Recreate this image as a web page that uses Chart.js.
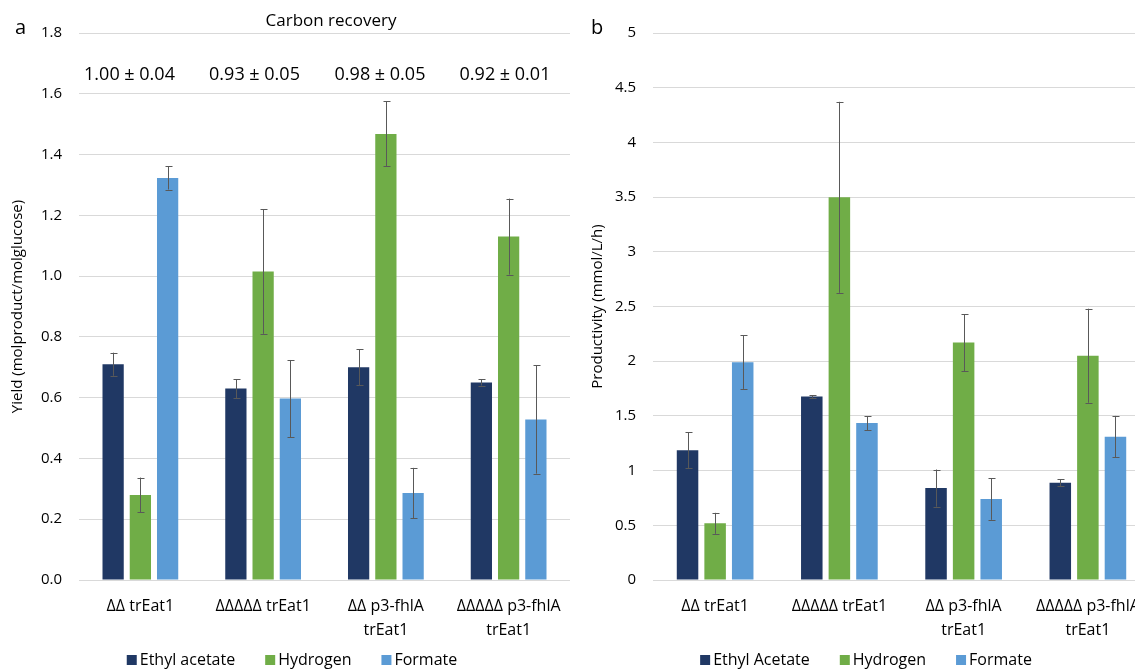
<!DOCTYPE html>
<html>
<head>
<meta charset="utf-8">
<script src="https://cdn.jsdelivr.net/npm/chart.js@4"></script>
<style>
  body { margin: 0; overflow: hidden; background: white; }
  .caja { position: absolute; top: 0; height: 671px; }
  #cajaA { left: 0; width: 570px; }
  #cajaB { left: 570px; width: 580px; }
</style>
</head>
<body>
<div class="caja" id="cajaA"><canvas id="graficaA"></canvas></div>
<div class="caja" id="cajaB"><canvas id="graficaB"></canvas></div>
<script>
const cepas = [["ΔΔ trEat1"], ["ΔΔΔΔΔ trEat1"], ["ΔΔ p3-fhlA", "trEat1"], ["ΔΔΔΔΔ p3-fhlA", "trEat1"]]

// a: yield
const yieldEtilo = [0.71, 0.63, 0.70, 0.65]
const yieldHidrogeno = [0.28, 1.015, 1.468, 1.13]
const yieldFormiato = [1.323, 0.597, 0.286, 0.528]
const errEtilo = [0.038, 0.031, 0.059, 0.01]
const errHidrogeno = [0.057, 0.205, 0.107, 0.125]
const errFormiato = [0.038, 0.127, 0.083, 0.178]
const recuperacion = ["1.00 ± 0.04", "0.93 ± 0.05", "0.98 ± 0.05", "0.92 ± 0.01"]

// b: productivity
const prodEtilo = [1.187, 1.677, 0.84, 0.89]
const prodHidrogeno = [0.518, 3.498, 2.17, 2.05]
const prodFormiato = [1.991, 1.434, 0.74, 1.31]
const errProdEtilo = [0.165, 0.012, 0.17, 0.03]
const errProdHidrogeno = [0.096, 0.873, 0.26, 0.43]
const errProdFormiato = [0.244, 0.065, 0.19, 0.19]

const azulOscuro = "#203864"
const verde = "#70AD47"
const azul = "#5B9BD5"
const fuente = "'Open Sans', sans-serif"
const texto = "#000000"

Chart.defaults.font.family = fuente
Chart.defaults.color = texto

// error bars drawn through the y scale
const barrasError = {
    id: "barrasError",
    afterDatasetsDraw(chart) {
        const ctx = chart.ctx
        const y = chart.scales.y
        ctx.save()
        ctx.strokeStyle = "#595959"
        ctx.lineWidth = 1
        chart.data.datasets.forEach((ds, i) => {
            const meta = chart.getDatasetMeta(i)
            meta.data.forEach((bar, j) => {
                const v = ds.data[j]
                const e = ds.errores[j]
                const x = Math.round(bar.x) + 0.5
                const y1 = y.getPixelForValue(v + e)
                const y2 = y.getPixelForValue(v - e)
                ctx.beginPath()
                ctx.moveTo(x, y1)
                ctx.lineTo(x, y2)
                ctx.moveTo(x - 3, Math.round(y1) + 0.5)
                ctx.lineTo(x + 4, Math.round(y1) + 0.5)
                ctx.moveTo(x - 3, Math.round(y2) + 0.5)
                ctx.lineTo(x + 4, Math.round(y2) + 0.5)
                ctx.stroke()
            })
        })
        ctx.restore()
    }
}

// panel letter, title, recovery numbers and the legend
const textos = {
    id: "textos",
    afterDraw(chart, args, opts) {
        const ctx = chart.ctx
        ctx.save()
        ctx.fillStyle = texto
        ctx.textBaseline = "middle"
        ctx.textAlign = "left"
        ctx.font = "20px " + fuente
        ctx.fillText(opts.letra, opts.letraX, 28)
        if (opts.titulo) {
            ctx.textAlign = "center"
            ctx.font = "17px " + fuente
            ctx.fillText(opts.titulo, 331, 21)
            ctx.font = "18px " + fuente
            const xs = [129.5, 254.5, 380, 505]
            opts.valores.forEach((t, i) => ctx.fillText(t, xs[i], 75))
        }
        // legend
        ctx.font = "16px " + fuente
        ctx.textAlign = "left"
        const items = chart.data.datasets.map(ds => ({ t: ds.label, c: ds.backgroundColor, w: ctx.measureText(ds.label).width }))
        const total = items.reduce((s, it) => s + 13 + it.w, 0) + 30 * (items.length - 1)
        let x = chart.width / 2 + opts.legendaDx - total / 2
        const yl = 660
        items.forEach(it => {
            ctx.fillStyle = it.c
            ctx.fillRect(x, yl - 5, 10, 10)
            ctx.fillStyle = texto
            ctx.fillText(it.t, x + 13, yl)
            x += 13 + it.w + 30
        })
        ctx.restore()
    }
}

function crearGrafica(id, series, errores, nombres, yMax, paso, tituloY, izq, tituloPad, fmt, extra) {
    const config = {
        type: "bar",
        data: {
            labels: cepas,
            datasets: [
                { label: nombres[0], data: series[0], errores: errores[0], backgroundColor: azulOscuro },
                { label: nombres[1], data: series[1], errores: errores[1], backgroundColor: verde },
                { label: nombres[2], data: series[2], errores: errores[2], backgroundColor: azul }
            ]
        },
        options: {
            responsive: true,
            maintainAspectRatio: false,
            animation: false,
            layout: { padding: { top: 33, right: 0, bottom: 0, left: 0 } },
            datasets: { bar: { categoryPercentage: 0.666, barPercentage: 0.78 } },
            scales: {
                x: {
                    grid: { display: false },
                    border: { display: false },
                    ticks: { font: { size: 16, lineHeight: 1.5 }, padding: 6, maxRotation: 0, autoSkip: false },
                    afterFit: (s) => { s.height = 91 }
                },
                y: {
                    min: 0,
                    max: yMax,
                    ticks: { stepSize: paso, padding: 17, font: { size: 15 }, callback: fmt },
                    grid: { color: "#d9d9d9", drawTicks: false },
                    border: { display: false },
                    title: { display: true, text: tituloY, font: { size: 15 }, padding: { top: tituloPad, bottom: 0 } },
                    afterFit: (s) => { s.width = izq }
                }
            },
            plugins: {
                legend: { display: false },
                tooltip: { enabled: false },
                textos: extra
            }
        },
        plugins: [barrasError, textos]
    }
    return new Chart(document.querySelector(id), config)
}

const graficaA = crearGrafica("#graficaA",
    [yieldEtilo, yieldHidrogeno, yieldFormiato],
    [errEtilo, errHidrogeno, errFormiato],
    ["Ethyl acetate", "Hydrogen", "Formate"],
    1.8, 0.2, "Yield (molproduct/molglucose)", 79, 9,
    (v) => v.toFixed(1),
    { letra: "a", letraX: 15, titulo: "Carbon recovery", valores: recuperacion, legendaDx: 7 })

const graficaB = crearGrafica("#graficaB",
    [prodEtilo, prodHidrogeno, prodFormiato],
    [errProdEtilo, errProdHidrogeno, errProdFormiato],
    ["Ethyl Acetate", "Hydrogen", "Formate"],
    5, 0.5, "Productivity (mmol/L/h)", 83, 19,
    (v) => String(+v.toFixed(1)),
    { letra: "b", letraX: 21, legendaDx: 6 })
</script>
</body>
</html>
